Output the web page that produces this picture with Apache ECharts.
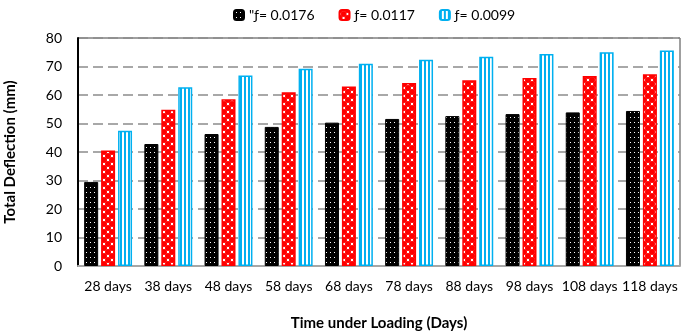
<!DOCTYPE html>
<html>
<head>
<meta charset="utf-8">
<script src="https://cdn.jsdelivr.net/npm/echarts@6/dist/echarts.min.js"></script>
<style>
  html, body { margin: 0; padding: 0; background: #fff; }
  #chart { width: 685px; height: 331px; }
</style>
</head>
<body>
<div id="chart"></div>
<script>
// categories and values
var days = ['28 days', '38 days', '48 days', '58 days', '68 days', '78 days', '88 days', '98 days', '108 days', '118 days'];
var f0176 = [29.5, 42.8, 46.3, 48.8, 50.3, 51.6, 52.6, 53.3, 53.9, 54.4];
var f0117 = [40.5, 54.8, 58.5, 61.0, 63.0, 64.2, 65.2, 66.0, 66.7, 67.3];
var f0099 = [47.5, 62.7, 66.8, 69.2, 71.0, 72.4, 73.4, 74.4, 75.0, 75.6];
var names = ['"ƒ= 0.0176', 'ƒ= 0.0117', 'ƒ= 0.0099'];

// fill patterns
function tile(w, h, draw) {
  var c = document.createElement('canvas');
  c.width = w; c.height = h;
  draw(c.getContext('2d'));
  return { image: c, repeat: 'repeat' };
}
var dots = tile(4, 5, function (g) {
  g.fillStyle = '#000'; g.fillRect(0, 0, 4, 5);
  g.fillStyle = '#fff'; g.fillRect(2, 2, 1, 1);
});
var diamonds = tile(8, 8, function (g) {
  g.fillStyle = '#fff'; g.fillRect(0, 0, 8, 8);
  g.fillStyle = '#ff0000';
  [[0, 0], [8, 0], [0, 8], [8, 8], [4, 4]].forEach(function (p) {
    g.beginPath(); g.arc(p[0], p[1], 3.0, 0, Math.PI * 2); g.fill();
  });
});
var stripes = tile(4, 1, function (g) {
  g.fillStyle = '#fff'; g.fillRect(0, 0, 4, 1);
  g.fillStyle = '#00b0f0'; g.fillRect(0, 0, 2, 1);
});

var font = 'Lato, "Open Sans", sans-serif';
var chart = echarts.init(document.getElementById('chart'));

chart.setOption({
  animation: false,
  textStyle: { fontFamily: font },
  legend: {
    top: 3,
    left: 228,
    itemWidth: 10,
    itemHeight: 10,
    itemGap: 24,
    textStyle: { fontSize: 14, color: '#000', fontFamily: font },
    data: names
  },
  grid: {
    left: 78, right: 5, top: 38, bottom: 65,
    outerBoundsMode: 'none',
    show: true, borderColor: '#404040', borderWidth: 1
  },
  xAxis: {
    type: 'category',
    data: days,
    name: 'Time under Loading (Days)',
    nameLocation: 'middle',
    nameGap: 50,
    nameTextStyle: { fontSize: 15, fontWeight: 'bold', color: '#000', fontFamily: font },
    axisLine: { lineStyle: { color: '#a6a6a6', width: 2 } },
    axisTick: { show: false },
    axisLabel: { fontSize: 14, color: '#000', margin: 13, interval: 0 }
  },
  yAxis: {
    type: 'value',
    min: 0, max: 80, interval: 10,
    name: 'Total Deflection (mm)',
    nameLocation: 'middle',
    nameGap: 60,
    nameTextStyle: { fontSize: 15, fontWeight: 'bold', color: '#000', fontFamily: font },
    axisLine: { show: true, lineStyle: { color: '#000', width: 2 } },
    axisTick: { show: false },
    axisLabel: { fontSize: 14, color: '#000', margin: 16 },
    splitLine: { lineStyle: { color: '#8c8c8c', width: 1.5, type: [10, 5] } }
  },
  series: [
    {
      name: names[0], type: 'bar', data: f0176,
      barWidth: 14, barGap: '21%', barCategoryGap: '20%',
      itemStyle: { color: dots, borderColor: '#000', borderWidth: 1 }
    },
    {
      name: names[1], type: 'bar', data: f0117,
      barWidth: 14, barGap: '21%',
      itemStyle: { color: diamonds, borderColor: '#ff0000', borderWidth: 1.5 }
    },
    {
      name: names[2], type: 'bar', data: f0099,
      barWidth: 14, barGap: '21%',
      itemStyle: { color: stripes, borderColor: '#00b0f0', borderWidth: 1.5 }
    }
  ]
});
</script>
</body>
</html>
